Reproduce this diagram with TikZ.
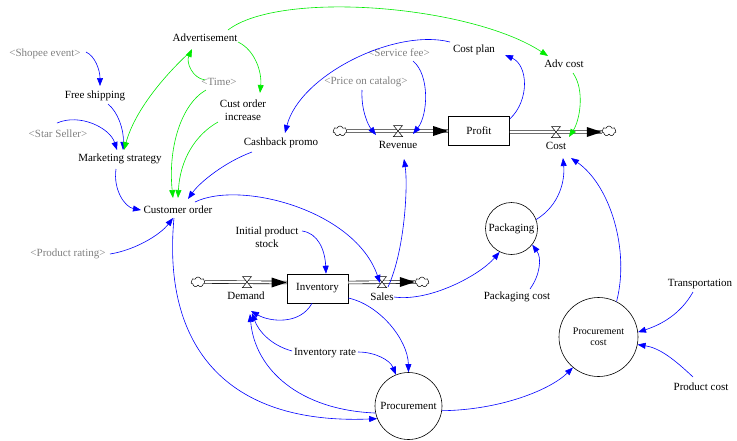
\documentclass[tikz,border=0pt]{standalone}
\usepackage{fontspec}
\setmainfont{Liberation Serif}
\usetikzlibrary{arrows.meta,shapes.symbols}
\definecolor{grtxt}{RGB}{128,128,128}
\definecolor{lnblue}{RGB}{0,0,255}
\definecolor{lngreen}{RGB}{0,235,0}
\tikzset{
  lbl/.style={font=\fontsize{11}{13}\selectfont, inner sep=1pt, align=center},
  shad/.style={lbl, text=grtxt},
  stockbox/.style={draw, line width=0.6pt, minimum width=61pt, minimum height=29pt, inner sep=0pt, font=\fontsize{11}{13}\selectfont},
  auxc/.style={draw, circle, line width=0.6pt, inner sep=0pt, font=\fontsize{11}{13}\selectfont, align=center},
  cloudn/.style={cloud, draw, cloud puffs=7, aspect=1.4, minimum width=14pt, minimum height=10pt, inner sep=0pt, line width=0.5pt, fill=white},
  bl/.style={color=lnblue, line width=0.6pt, -{Triangle[length=8pt,width=6pt]}},
  gn/.style={color=lngreen, line width=0.6pt, -{Triangle[length=8pt,width=6pt]}},
  pipe/.style={double distance=2.2pt, line width=0.6pt},
  flowhead/.style={fill=black},
  valvepic/.pic={\draw[fill=white,line width=0.5pt] (-4.5,-5.5) -- (4.5,-5.5) -- (-4.5,5.5) -- (4.5,5.5) -- cycle;}
}
\begin{document}
\begin{tikzpicture}[x=1pt,y=-1pt]
\useasboundingbox (0,0) rectangle (737,440);
% ---- text variables
\node[lbl] (adv) at (205,38) {Advertisement};
\node[shad] (shopee) at (45,54) {\textless Shopee event\textgreater};
\node[lbl] (free) at (95,96) {Free shipping};
\node[shad] (star) at (58,134) {\textless Star Seller\textgreater};
\node[lbl] (mkt) at (120,159) {Marketing strategy};
\node[shad] (time) at (219,82) {\textless Time\textgreater};
\node[lbl] (coi) at (243,110.5) {Cust order\\increase};
\node[lbl] (cash) at (281,143) {Cashback promo};
\node[lbl] (cust) at (178,210) {Customer order};
\node[shad] (rating) at (68,254) {\textless Product rating\textgreater};
\node[lbl] (cplan) at (474,50) {Cost plan};
\node[lbl] (advc) at (564,64) {Adv cost};
\node[shad] (svc) at (399,53) {\textless Service fee\textgreater};
\node[shad] (price) at (366,82) {\textless Price on catalog\textgreater};
\node[lbl] (rev) at (398,145) {Revenue};
\node[lbl] (cost) at (556,146) {Cost};
\node[lbl] (pcost) at (517,297) {Packaging cost};
\node[lbl] (ips) at (267,237.5) {Initial product\\stock};
\node[lbl] (dem) at (246,296) {Demand};
\node[lbl] (sales) at (382,297) {Sales};
\node[lbl] (irate) at (325,353) {Inventory rate};
\node[lbl] (trans) at (700,284) {Transportation};
\node[lbl] (prodc) at (701,387) {Product cost};
% ---- stocks and circles
\node[stockbox] (profit) at (479,131) {Profit};
\node[stockbox] (inv) at (317.5,288.5) {Inventory};
\node[auxc, minimum size=52pt] (pack) at (511.5,228.5) {Packaging};
\node[auxc, minimum size=79pt, font=\fontsize{10}{11.5}\selectfont] (procc) at (598.5,337) {Procurement\\cost};
\node[auxc, minimum size=67pt] (proc) at (408.5,406) {Procurement};
% ---- clouds and valves
\node[cloudn] (cr1) at (340,131) {};
\node[cloudn] (cc) at (609,131) {};
\node[cloudn] (cd) at (198,282) {};
\node[cloudn] (cs) at (422,282) {};
\coordinate (rv) at (398,131);
\coordinate (cv) at (556,132);
\coordinate (dv) at (247,282);
\coordinate (sv) at (382,282);
% ---- flows
\draw[pipe] (cr1.east) -- (profit.west);
\fill[flowhead] (profit.west) -- +(-15,-5) -- +(-15,5) -- cycle;
\draw[pipe] ([shift={(0,1)}]profit.east) -- ([shift={(0,1)}]cc.west);
\fill[flowhead] ([shift={(0,1)}]cc.west) -- +(-15,-5) -- +(-15,5) -- cycle;
\draw[pipe] (cd.east) -- ([shift={(0,-6)}]inv.west);
\fill[flowhead] ([shift={(0,-6)}]inv.west) -- +(-15,-5) -- +(-15,5) -- cycle;
\draw[pipe] ([shift={(0,-6)}]inv.east) -- (cs.west);
\fill[flowhead] (cs.west) -- +(-15,-5) -- +(-15,5) -- cycle;
\pic at (rv) {valvepic};
\pic at (cv) {valvepic};
\pic at (dv) {valvepic};
\pic at (sv) {valvepic};
% ---- connectors
\draw[bl] ([shift={(41,-2)}]shopee.center) .. controls (95,56) and (100,70) .. ([shift={(5,-10)}]free.center);
\draw[bl] ([shift={(13,8)}]free.center) .. controls (118,112) and (124,130) .. ([shift={(3,-9)}]mkt.center);
\draw[bl] ([shift={(-1,-11)}]star.center) .. controls (80,113) and (110,128) .. ([shift={(-3,-9)}]mkt.center);
\draw[gn] ([shift={(-15,14)}]adv.center) .. controls (165,75) and (135,110) .. ([shift={(4,-9)}]mkt.center);
\draw[gn] ([shift={(-14,-2)}]time.center) .. controls (192,78) and (186,62) .. ([shift={(-13,11)}]adv.center);
\draw[gn] ([shift={(33,4)}]adv.center) .. controls (255,50) and (262,72) .. ([shift={(17,-17.5)}]coi.center);
\draw[gn] ([shift={(23,-8)}]adv.center) .. controls (280,-10) and (470,5) .. ([shift={(-16,-8)}]advc.center);
\draw[gn] ([shift={(-13,8)}]time.center) .. controls (180,105) and (168,150) .. ([shift={(-5,-12)}]cust.center);
\draw[gn] ([shift={(-25,11.5)}]coi.center) .. controls (195,135) and (180,160) .. ([shift={(0,-12)}]cust.center);
\draw[bl] ([shift={(-29,9)}]cash.center) .. controls (225,162) and (200,182) .. ([shift={(10,-11)}]cust.center);
\draw[bl] ([shift={(-4,10)}]mkt.center) .. controls (113,190) and (125,207) .. ([shift={(-37,0)}]cust.center);
\draw[bl] ([shift={(42,0)}]rating.center) .. controls (135,250) and (160,235) .. ([shift={(-5,8)}]cust.center);
\draw[bl] ([shift={(17,-8)}]cust.center) .. controls (240,180) and (355,210) .. ([shift={(-2,1)}]sv);
\draw[bl] ([shift={(-4,8)}]cust.center) .. controls (162,345) and (225,425) .. (proc.202);
\draw[bl] ([shift={(-24,-8)}]cplan.center) .. controls (395,28) and (300,75) .. ([shift={(4,-10)}]cash.center);
\draw[bl] ([shift={(14,8)}]svc.center) .. controls (430,75) and (428,115) .. ([shift={(15,-11)}]rev.center);
\draw[bl] ([shift={(-4,8)}]price.center) .. controls (361,110) and (368,125) .. ([shift={(-22,-10)}]rev.center);
\draw[bl] ([shift={(0,-12)}]profit.east) .. controls (530,100) and (528,65) .. ([shift={(31,5)}]cplan.center);
\draw[gn] ([shift={(9,9)}]advc.center) .. controls (585,90) and (580,120) .. ([shift={(13,-9)}]cost.center);
\draw[bl] (pack.20) .. controls (560,205) and (565,180) .. ([shift={(7,12)}]cost.center);
\draw[bl] (procc.63) .. controls (630,250) and (610,185) .. ([shift={(15,12)}]cost.center);
\draw[bl] ([shift={(6,5)}]sv) .. controls (405,250) and (408,185) .. ([shift={(6,14)}]rev.center);
\draw[bl] ([shift={(12,0)}]sales.center) .. controls (430,302) and (480,275) .. (pack.243);
\draw[bl] ([shift={(13,-8)}]pcost.center) .. controls (540,275) and (542,258) .. (pack.-38);
\draw[bl] ([shift={(35,-6.5)}]ips.center) .. controls (318,233) and (325,250) .. ([shift={(8.5,0)}]inv.north);
\draw[bl] ([shift={(-5.5,0)}]inv.south) .. controls (300,325) and (270,322) .. ([shift={(5,15)}]dem.center);
\draw[bl] ([shift={(-33,-2)}]irate.center) .. controls (270,345) and (258,330) .. ([shift={(6,17)}]dem.center);
\draw[bl] (proc.192) .. controls (300,410) and (255,370) .. ([shift={(4,18)}]dem.center);
\draw[bl] ([shift={(33,-1)}]irate.center) .. controls (375,352) and (390,360) .. (proc.112);
\draw[bl] ([shift={(0,9.5)}]inv.east) .. controls (380,305) and (408,340) .. (proc.90);
\draw[bl] (proc.-8) .. controls (500,410) and (550,390) .. (procc.230);
\draw[bl] ([shift={(-7,8)}]trans.center) .. controls (680,315) and (660,325) .. (procc.7);
\draw[bl] ([shift={(-8,-10)}]prodc.center) .. controls (675,360) and (660,348) .. (procc.-11);
\end{tikzpicture}
\end{document}
